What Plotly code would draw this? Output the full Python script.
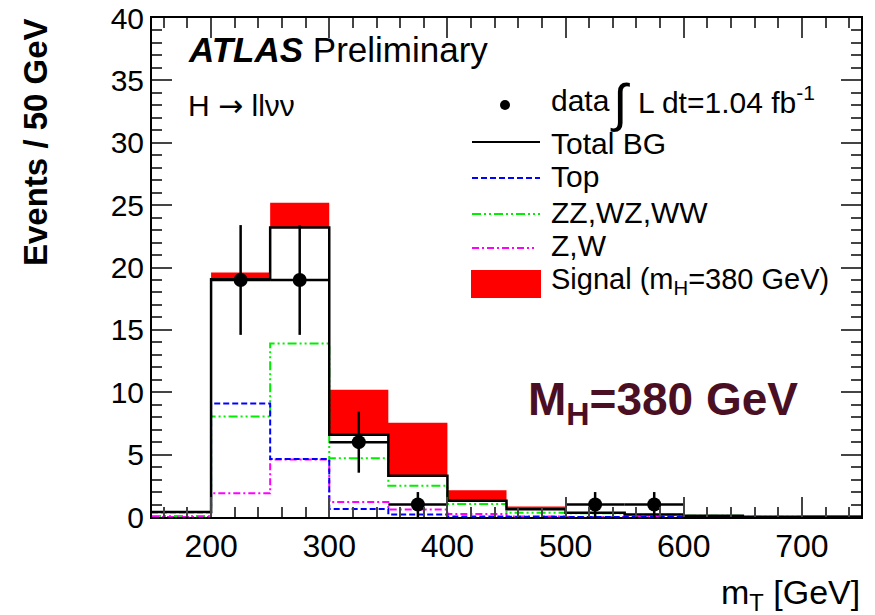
import plotly.graph_objects as go

# ---- data ----
bin_edges = [150, 200, 250, 300, 350, 400, 450, 500, 550, 600, 650, 700, 750]
total_bg  = [0.40, 19.05, 23.2, 6.6, 3.3, 1.3, 0.62, 0.35, 0.20, 0.10, 0.02, 0.0]
signal    = [0.0, 0.55, 2.0, 3.6, 4.25, 0.85, 0.22, 0.0, 0.0, 0.0, 0.0, 0.15]
top       = [0.38, 9.1, 4.65, 0.64, 0.2, 0.05, 0.02, 0.0, 0.0, 0.0, 0.0, 0.0]
diboson   = [0.08, 8.05, 13.9, 4.7, 2.5, 1.04, 0.35, 0.30, 0.18, 0.10, 0.02, 0.0]
zw        = [0.0, 1.9, 4.6, 1.2, 0.6, 0.25, 0.05, 0.0, 0.0, 0.0, 0.0, 0.0]
data_x    = [225, 275, 325, 375, 525, 575]
data_y    = [19, 19, 6, 1, 1, 1]
data_err  = [4.4, 4.4, 2.45, 1.0, 1.0, 1.0]
xticks = [200, 300, 400, 500, 600, 700]
yticks = [0, 5, 10, 15, 20, 25, 30, 35, 40]

FONT = "Liberation Sans, Arial, sans-serif"

def step(vals):
    return bin_edges, list(vals) + [vals[-1]]

fig = go.Figure()

sig_tot = [t + s for t, s in zip(total_bg, signal)]
x, y = step(sig_tot)
fig.add_trace(go.Scatter(x=x, y=y, mode="lines", line=dict(shape="hv", color="red", width=0),
                         fill="tozeroy", fillcolor="red", hoverinfo="skip"))
x, y = step(total_bg)
fig.add_trace(go.Scatter(x=x, y=y, mode="lines", line=dict(shape="hv", color="white", width=0),
                         fill="tozeroy", fillcolor="white", hoverinfo="skip"))

x, y = step(diboson)
fig.add_trace(go.Scatter(x=x, y=y, mode="lines",
                         line=dict(shape="hv", color="#00ee00", width=2, dash="9px,3px,2px,3px,2px,3px")))
x, y = step(zw)
fig.add_trace(go.Scatter(x=x, y=y, mode="lines",
                         line=dict(shape="hv", color="#ff00ff", width=2, dash="7px,3px,2px,3px")))
x, y = step(top)
fig.add_trace(go.Scatter(x=x, y=y, mode="lines",
                         line=dict(shape="hv", color="#0000ff", width=2, dash="6px,3px")))
x, y = step(total_bg)
fig.add_trace(go.Scatter(x=x, y=y, mode="lines",
                         line=dict(shape="hv", color="black", width=2.5)))

fig.add_trace(go.Scatter(x=data_x, y=data_y, mode="markers",
                         marker=dict(color="black", size=14),
                         error_y=dict(type="data", array=data_err, color="black", thickness=2.5, width=0),
                         error_x=dict(type="constant", value=25, color="black", thickness=2.5, width=0)))

# ---- legend & text (screen pixel -> paper helpers) ----
PX0, PX1, PY0, PY1 = 152, 861, 18, 517
def px(v):
    return (v - PX0) / (PX1 - PX0)
def py(v):
    return (PY1 - v) / (PY1 - PY0)

shapes = []
shapes.append(dict(type="line", xref="paper", yref="paper", x0=px(472), x1=px(540), y0=py(142), y1=py(142),
                   line=dict(color="black", width=2)))
shapes.append(dict(type="line", xref="paper", yref="paper", x0=px(472), x1=px(540), y0=py(178), y1=py(178),
                   line=dict(color="#0000ff", width=2, dash="6px,3px")))
shapes.append(dict(type="line", xref="paper", yref="paper", x0=px(472), x1=px(540), y0=py(214), y1=py(214),
                   line=dict(color="#00ee00", width=2, dash="9px,3px,2px,3px,2px,3px")))
shapes.append(dict(type="line", xref="paper", yref="paper", x0=px(472), x1=px(534), y0=py(248), y1=py(248),
                   line=dict(color="#ff00ff", width=2, dash="7px,3px,2px,3px")))
shapes.append(dict(type="rect", xref="paper", yref="paper", x0=px(471), x1=px(541), y0=py(298), y1=py(270),
                   fillcolor="red", line=dict(width=0)))
shapes.append(dict(type="circle", xref="paper", yref="paper", x0=px(500), x1=px(510), y0=py(110), y1=py(100),
                   fillcolor="black", line=dict(width=0)))

ann = []
def text(xp, yp, s, size=24, anchor="left", color="black", **kw):
    ann.append(dict(xref="paper", yref="paper", x=px(xp), y=py(yp), text=s, showarrow=False,
                    xanchor=anchor, yanchor="middle", font=dict(family=FONT, size=size, color=color), **kw))

text(186, 50, "<b><i>ATLAS</i></b> Preliminary", size=35)
text(186, 106, "H <span style=\"font-family:DejaVu Sans\">→</span> llνν", size=30)
text(549, 100, "data", size=30)
text(608, 104, "∫", size=52)
text(636, 100, "L dt=1.04 fb<sup>-1</sup>", size=30)
text(549, 143, "Total BG", size=30)
text(549, 176, "Top", size=30)
text(549, 213, "ZZ,WZ,WW", size=30)
text(549, 245, "Z,W", size=30)
text(549, 281, "Signal (m<sub>H</sub>=380 GeV)", size=29)
text(526, 402, "<b>M<sub>H</sub>=380 GeV</b>", size=46, color="#4a0f22")

# axis titles
ann.append(dict(xref="paper", yref="paper", x=px(862), y=py(594), text="m<sub>T</sub> [GeV]",
                showarrow=False, xanchor="right", yanchor="middle", font=dict(family=FONT, size=34)))
ann.append(dict(xref="paper", yref="paper", x=px(35), y=py(16), text="<b>Events / 50 GeV</b>",
                showarrow=False, xanchor="center", yanchor="top", textangle=-90,
                font=dict(family=FONT, size=33)))

# page body has an 8px margin: figure is placed at (8,8) in the window
fig.update_layout(
    width=867, height=607,
    margin=dict(l=144, r=14, t=10, b=98),
    paper_bgcolor="white", plot_bgcolor="white",
    showlegend=False,
    shapes=shapes, annotations=ann,
    font=dict(family=FONT, size=26, color="black"),
    xaxis=dict(range=[150, 750], tickvals=xticks, ticks="inside", ticklen=20, tickwidth=2,
               showline=True, linecolor="black", linewidth=2, mirror="allticks", showgrid=False,
               zeroline=False, tickfont=dict(family=FONT, size=32), automargin=False,
               ticklabeloverflow="allow",
               minor=dict(ticks="inside", dtick=20, tick0=0, ticklen=10, tickwidth=2, showgrid=False)),
    yaxis=dict(range=[0, 40], tickvals=yticks, ticks="inside", ticklen=20, tickwidth=2,
               showline=True, linecolor="black", linewidth=2, mirror="allticks", showgrid=False,
               zeroline=False, tickfont=dict(family=FONT, size=30), automargin=False,
               ticklabeloverflow="allow",
               minor=dict(ticks="inside", dtick=1, ticklen=10, tickwidth=2, showgrid=False)),
)
fig.write_html("out.html")
